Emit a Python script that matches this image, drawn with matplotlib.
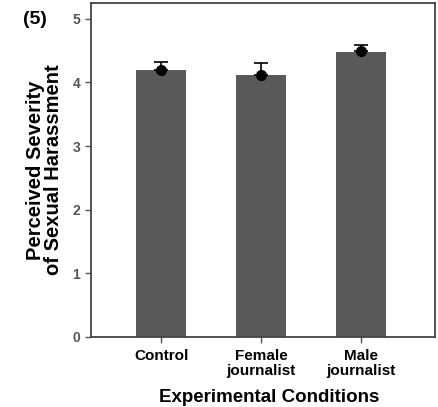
import numpy as np
import matplotlib as mpl
mpl.use('Agg')
import matplotlib.pyplot as plt

# Donnees
conditions = ['Control', 'Female\njournalist', 'Male\njournalist']
bar_values = [4.19, 4.12, 4.47]
mean_points = [4.19, 4.12, 4.50]
err_upper = [4.32, 4.31, 4.59]
y_ticks = [0, 1, 2, 3, 4, 5]

plt.rcParams['font.family'] = ['Liberation Sans', 'DejaVu Sans']
plt.rcParams['font.weight'] = 'bold'

fig = plt.figure(figsize=(4.38, 4.07), dpi=100)
ax = fig.add_axes([0.207, 0.172, 0.786, 0.821])

x = np.arange(len(conditions))
ax.bar(x, bar_values, width=0.5, color='#595959', zorder=2)

# Barres d'erreur (seulement vers le haut)
yerr = np.array([np.zeros(len(x)), np.array(err_upper) - np.array(mean_points)])
ax.errorbar(x, mean_points, yerr=yerr, fmt='o', color='black', markersize=7,
            ecolor='black', elinewidth=1.2, capsize=5, capthick=1.2, zorder=3)

ax.set_xlim(-0.705, 2.74)
ax.set_ylim(0, 5.25)
ax.set_yticks(y_ticks)
ax.set_xticks(x)
ax.set_xticklabels(conditions, fontsize=11, fontweight='bold', color='black', linespacing=1.05)
ax.tick_params(axis='y', labelsize=10, labelcolor='#555555', color='#555555', length=4, width=1)
ax.tick_params(axis='x', color='#555555', length=4, width=1, pad=5)
for l in ax.get_yticklabels():
    l.set_fontweight('bold')

for s in ax.spines.values():
    s.set_color('#444444')
    s.set_linewidth(1.3)

ax.set_ylabel('Perceived Severity\nof Sexual Harassment', fontsize=14.5, fontweight='bold', linespacing=0.95)
ax.yaxis.set_label_coords(-0.08, 0.5)
ax.set_xlabel('Experimental Conditions', fontsize=13.5, fontweight='bold')
ax.xaxis.set_label_coords(0.52, -0.155)

fig.text(0.052, 0.953, '(5)', fontsize=14, fontweight='bold', ha='left', va='center')

fig.savefig('out.png', dpi=100)
